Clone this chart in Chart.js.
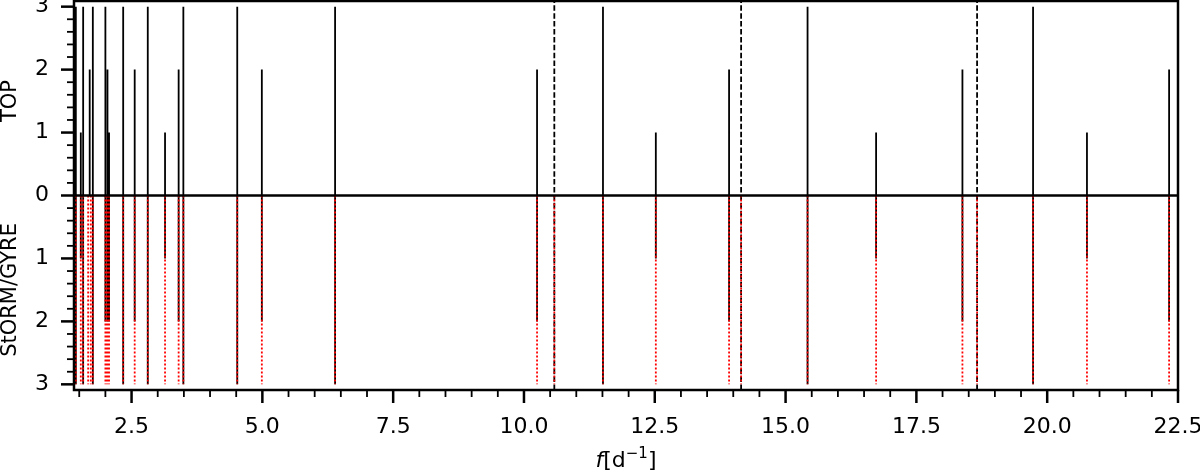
<!DOCTYPE html>
<html lang="en">
<head>
<meta charset="UTF-8">
<title>TOP vs StORM/GYRE</title>
<script src="https://cdn.jsdelivr.net/npm/chart.js@4.4.1/dist/chart.umd.min.js"></script>
<style>
  html, body { margin: 0; padding: 0; background: #fff; }
  #wrap { width: 1200px; height: 473px; }
</style>
</head>
<body>
<div id="wrap"><canvas id="modes"></canvas></div>
<script>
  /************  DATA  ************/
  // TOP panel: frequency [1/d] and stem height
  const topFreqs  = [1.435, 1.53, 1.575, 1.70, 1.76, 2.00, 2.04, 2.07, 2.34, 2.56, 2.81, 3.14, 3.40, 3.49,
                     4.52, 4.99, 6.39, 10.25, 11.51, 12.52, 13.92, 15.42, 16.73, 18.38, 19.73, 20.76, 22.33];
  const topOrders = [3, 1, 3, 2, 3, 3, 2, 1, 3, 2, 3, 1, 2, 3,
                     3, 2, 3, 2, 3, 1, 2, 3, 1, 2, 3, 1, 2];
  // lower panel: black solid stems (matched modes)
  const lowFreqs  = [1.435, 1.53, 1.575, 1.76, 2.00, 2.04, 2.07, 2.34, 2.56, 2.81, 3.14, 3.40, 3.49,
                     4.52, 4.99, 6.39, 10.25, 11.51, 12.52, 13.92, 15.42, 16.73, 18.38, 19.73, 20.76, 22.33];
  const lowOrders = [3, 1, 3, 3, 2, 2, 2, 3, 2, 3, 1, 2, 3,
                     3, 2, 3, 2, 3, 1, 2, 3, 1, 2, 3, 1, 2];
  // lower panel: StORM/GYRE frequencies (red dotted, full depth)
  const gyreFreqs  = [1.435, 1.53, 1.575, 1.67, 1.72, 1.76, 2.00, 2.03, 2.05, 2.07, 2.34, 2.56, 2.81, 3.14, 3.40, 3.49,
                      4.52, 4.99, 6.39, 10.25, 10.58, 11.51, 12.52, 13.92, 14.15, 15.42, 16.73, 18.38, 18.66, 19.73, 20.76, 22.33];
  const gyreOrders = gyreFreqs.map(() => 3);
  // dashed vertical markers
  const markerFreqs = [10.58, 14.15, 18.66];

  const xTicks = [2.5, 5, 7.5, 10, 12.5, 15, 17.5, 20, 22.5];
  const yTicks = [-3, -2, -1, 0, 1, 2, 3];
  const xMin = 1.4, xMax = 22.5;
  const yMin = -3.09, yMax = 3.09;

  const FONT = "'DejaVu Sans', sans-serif";

  // turn frequency/height lists into one broken line (stems)
  function stems(freqs, heights, sign) {
    const pts = [];
    freqs.forEach((f, i) => {
      pts.push({ x: f, y: 0 });
      pts.push({ x: f, y: sign * heights[i] });
      pts.push({ x: f, y: null });
    });
    return pts;
  }
  function fullLines(freqs) {
    const pts = [];
    freqs.forEach(f => {
      pts.push({ x: f, y: yMin });
      pts.push({ x: f, y: yMax });
      pts.push({ x: f, y: null });
    });
    return pts;
  }

  /************  AXES FRAME + MINOR TICKS + LABELS  ************/
  const framePlugin = {
    id: 'frame',
    afterDraw(chart) {
      const { ctx, chartArea: a, scales: { x, y } } = chart;
      ctx.save();
      ctx.strokeStyle = '#000';
      ctx.lineCap = 'butt';

      // zero line
      const y0 = y.getPixelForValue(0);
      ctx.lineWidth = 2.5;
      ctx.beginPath();
      ctx.moveTo(a.left, y0);
      ctx.lineTo(a.right, y0);
      ctx.stroke();

      // spines
      ctx.strokeRect(a.left, a.top, a.right - a.left, a.bottom - a.top);

      // x ticks every 0.5, major every 2.5
      for (let v = 1.5; v <= xMax + 1e-9; v += 0.5) {
        const px = x.getPixelForValue(v);
        const major = Math.abs(v / 2.5 - Math.round(v / 2.5)) < 1e-6;
        ctx.lineWidth = major ? 2.5 : 1.8;
        ctx.beginPath();
        ctx.moveTo(px, a.bottom);
        ctx.lineTo(px, a.bottom + (major ? 13 : 7));
        ctx.stroke();
      }
      // y ticks every 0.2, major every 1
      for (let k = -15; k <= 15; k++) {
        const v = k * 0.2;
        const py = y.getPixelForValue(v);
        const major = k % 5 === 0;
        ctx.lineWidth = major ? 2.5 : 1.8;
        ctx.beginPath();
        ctx.moveTo(a.left, py);
        ctx.lineTo(a.left - (major ? 13 : 7), py);
        ctx.stroke();
      }

      // y titles
      ctx.fillStyle = '#000';
      ctx.font = '21px ' + FONT;
      ctx.textAlign = 'center';
      ctx.textBaseline = 'middle';
      const titles = [['TOP', (y.getPixelForValue(3) + y0) / 2], ['StORM/GYRE', (y0 + y.getPixelForValue(-3)) / 2]];
      titles.forEach(([t, cy]) => {
        ctx.save();
        ctx.translate(11, cy);
        ctx.rotate(-Math.PI / 2);
        ctx.fillText(t, 0, 0);
        ctx.restore();
      });

      // x title  f[d^-1]
      const base = 467;
      const parts = [
        { t: 'f', font: 'italic 22px ' + FONT, dy: 0 },
        { t: '[d', font: '22px ' + FONT, dy: 0 },
        { t: '\u22121', font: '15px ' + FONT, dy: -9 },
        { t: ']', font: '22px ' + FONT, dy: 0 }
      ];
      let total = 0;
      parts.forEach(p => { ctx.font = p.font; p.w = ctx.measureText(p.t).width; total += p.w; });
      let cx = (a.left + a.right) / 2 - total / 2;
      ctx.textAlign = 'left';
      ctx.textBaseline = 'alphabetic';
      parts.forEach(p => {
        ctx.font = p.font;
        ctx.fillText(p.t, cx, base + p.dy);
        cx += p.w;
      });
      ctx.restore();
    }
  };

  /************  CHART  ************/
  const lineBase = { showLine: true, pointRadius: 0, pointHoverRadius: 0, spanGaps: false, fill: false };

  new Chart(document.getElementById('modes'), {
    type: 'scatter',
    data: {
      datasets: [
        // lower "order" is painted on top
        { ...lineBase, label: 'TOP', data: stems(topFreqs, topOrders, 1), borderColor: '#000', borderWidth: 1.8, order: 3 },
        { ...lineBase, label: 'TOP (lower)', data: stems(lowFreqs, lowOrders, -1), borderColor: '#000', borderWidth: 1.8, order: 2 },
        { ...lineBase, label: 'markers', data: fullLines(markerFreqs), borderColor: '#000', borderWidth: 1.8, borderDash: [5.5, 2.4], order: 1 },
        { ...lineBase, label: 'StORM/GYRE', data: stems(gyreFreqs, gyreOrders, -1), borderColor: '#ff0000', borderWidth: 1.8, borderDash: [2, 2], order: 0 }
      ]
    },
    options: {
      responsive: true,
      maintainAspectRatio: false,
      animation: false,
      layout: { padding: { top: 1, right: 22, left: 0, bottom: 0 } },
      plugins: { legend: { display: false }, tooltip: { enabled: false } },
      scales: {
        x: {
          type: 'linear', min: xMin, max: xMax,
          grid: { display: false, drawTicks: false },
          border: { display: false },
          afterBuildTicks: s => { s.ticks = xTicks.map(v => ({ value: v })); },
          afterFit: s => { s.height = 83; s.paddingLeft = 0; s.paddingRight = 0; },
          ticks: { color: '#000', font: { family: FONT, size: 22 }, padding: 24, maxRotation: 0,
                   callback: v => v.toFixed(1) }
        },
        y: {
          type: 'linear', min: yMin, max: yMax,
          grid: { display: false, drawTicks: false },
          border: { display: false },
          afterBuildTicks: s => { s.ticks = yTicks.map(v => ({ value: v })); },
          afterFit: s => { s.width = 74; s.paddingTop = 0; s.paddingBottom = 0; },
          ticks: { color: '#000', font: { family: FONT, size: 22 }, padding: 25,
                   callback: v => String(Math.abs(v)) }
        }
      }
    },
    plugins: [framePlugin]
  });
</script>
</body>
</html>
